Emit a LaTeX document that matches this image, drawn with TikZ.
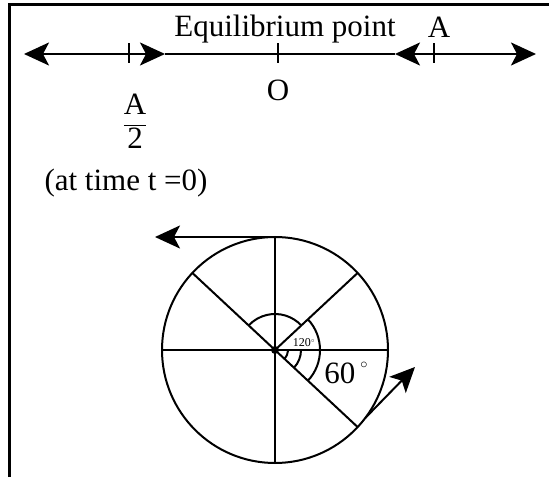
\documentclass[tikz,border=0pt]{standalone}
\usepackage{fontspec}
\setmainfont{Liberation Serif}
\usepackage{tikz}
\usetikzlibrary{arrows.meta, positioning, calc}

\begin{document}
\begin{tikzpicture}[
    x=1pt, y=1pt,
    axis/.style={line width=2pt},
    border/.style={line width=3pt},
    head/.style={axis, -{Stealth[length=25pt, width=23pt, inset=6pt]}},
    twohead/.style={axis, {Stealth[length=25pt, width=23pt, inset=6pt]}-{Stealth[length=25pt, width=23pt, inset=6pt]}},
    biglabel/.style={font=\fontsize{31}{36}\selectfont, inner sep=0pt},
    smalllabel/.style={font=\fontsize{12}{14}\selectfont, inner sep=0pt},
    dot/.style={circle, fill, inner sep=0pt, minimum size=8pt}
]
\useasboundingbox (0,0) rectangle (549,477);

% Rahmen
\draw[border] (9,0) -- (9,472) -- (549,472);

% Achse
\coordinate (lend) at (24,423);
\coordinate (rend) at (536,423);
\coordinate (mleft) at (165,423);
\coordinate (mright) at (395,423);
\coordinate (thalf) at (129,423);
\coordinate (tzero) at (278,423);
\coordinate (tamp) at (434,423);

\draw[twohead] (lend) -- (mleft);
\draw[axis] (mleft) -- (mright);
\draw[twohead] (mright) -- (rend);
\foreach \t in {thalf, tzero, tamp}
    \draw[axis] ($(\t)+(0,-9)$) -- ($(\t)+(0,11)$);

% Beschriftung Achse
\node[biglabel] (equil) at (285,448) {Equilibrium point};
\node[biglabel] (amp) at (439,450) {A};
\node[biglabel, below=26pt of tzero] (zero) {O};
\node[biglabel] (half) at (135,356) {$\displaystyle\frac{\mbox{A}}{\mbox{2}}$};
\node[biglabel] (time) at (126,294) {(at time t =0)};

% Kreis
\coordinate (o) at (275,127);
\draw[axis] (o) circle[radius=113];
\draw[axis] ($(o)+(-113,0)$) -- ($(o)+(113,0)$);
\draw[axis] ($(o)+(0,-113)$) -- ($(o)+(0,113)$);
\draw[axis] ($(o)+(137:113)$) -- ($(o)+(-43:113)$);
\draw[axis] (o) -- ($(o)+(43:113)$);
\node[dot] (center) at (o) {};

% Winkel
\draw[axis] ($(o)+(43:36)$) arc[start angle=43, end angle=137, radius=36];
\draw[axis] ($(o)+(-43:45)$) arc[start angle=-43, end angle=43, radius=45];
\draw[axis] ($(o)+(-43:13)$) arc[start angle=-43, end angle=-3, radius=13];
\draw[axis] ($(o)+(-43:26)$) arc[start angle=-43, end angle=0, radius=26];
\node[smalllabel] (big angle) at (304,134) {120$^{\scriptscriptstyle\circ}$};
\node[biglabel] (small angle) at (346,104) {60\,\raisebox{0.5em}{\fontsize{14}{14}\selectfont$\circ$}};

% Geschwindigkeiten
\coordinate (top) at ($(o)+(0,113)$);
\coordinate (topend) at (155,240);
\coordinate (low) at ($(o)+(-37:113)$);
\coordinate (lowend) at (415,110);
\draw[head] (top) -- (topend);
\draw[head] (low) -- (lowend);

\end{tikzpicture}
\end{document}
